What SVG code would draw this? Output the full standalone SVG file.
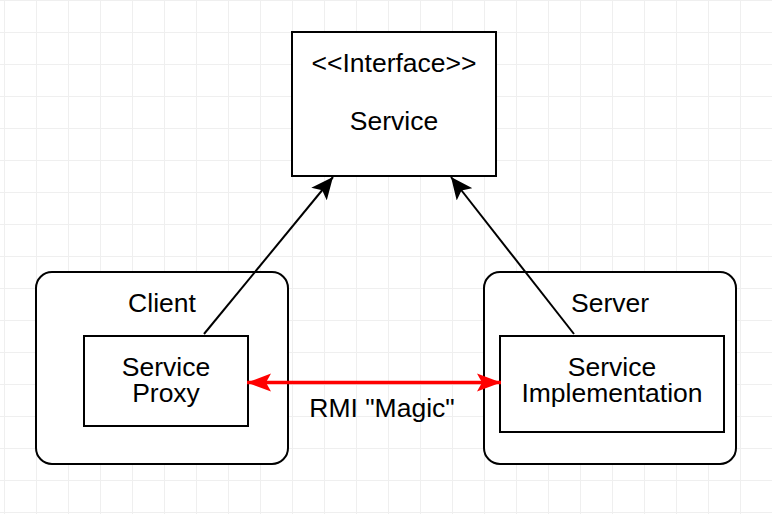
<svg xmlns="http://www.w3.org/2000/svg" width="772" height="514" viewBox="0 0 772 514">
  <defs>
    <pattern id="grid" x="4" y="0" width="32" height="32" patternUnits="userSpaceOnUse">
      <path d="M0.5 0 V32 M0 0.5 H32" fill="none" stroke="#efefef" stroke-width="1"/>
    </pattern>
    <marker id="blackHead" viewBox="0 0 22 20" refX="22" refY="10" markerWidth="22" markerHeight="20" markerUnits="userSpaceOnUse" orient="auto">
      <path d="M0 0 L22 10 L0 20 L5 10 Z" fill="#000"/>
    </marker>
    <marker id="redHead" viewBox="0 0 24 20" refX="24" refY="10" markerWidth="24" markerHeight="20" markerUnits="userSpaceOnUse" orient="auto-start-reverse">
      <path d="M0 1 L24 10 L0 19 L5 10 Z" fill="#ff0000"/>
    </marker>
    <style>
      .box { fill: #fff; stroke: #000; stroke-width: 2; }
      .lbl { font-family: "Liberation Sans", Arial, sans-serif; font-size: 26.5px; fill: #000; text-anchor: middle; }
    </style>
  </defs>
  <rect width="772" height="514" fill="#fff"/>
  <rect width="772" height="514" fill="url(#grid)"/>

  <g id="client">
    <rect class="box" x="36" y="272" width="252" height="192" rx="16" ry="16"/>
    <text class="lbl" x="162" y="312">Client</text>
  </g>
  <g id="server">
    <rect class="box" x="484" y="272" width="252" height="192" rx="16" ry="16"/>
    <text class="lbl" x="610" y="312">Server</text>
  </g>
  <g id="interface">
    <rect class="box" x="292" y="32" width="204" height="144"/>
    <text class="lbl" x="394" y="72">&lt;&lt;Interface&gt;&gt;</text>
    <text class="lbl" x="394" y="130">Service</text>
  </g>
  <g id="proxy">
    <rect class="box" x="84" y="336" width="164" height="90"/>
    <text class="lbl" x="166" y="376">Service</text>
    <text class="lbl" x="166" y="402">Proxy</text>
  </g>
  <g id="impl">
    <rect class="box" x="500" y="336" width="224" height="96"/>
    <text class="lbl" x="612" y="376">Service</text>
    <text class="lbl" x="612" y="402">Implementation</text>
  </g>

  <g id="connectors">
    <line x1="204" y1="334" x2="333" y2="177" stroke="#000" stroke-width="2" marker-end="url(#blackHead)"/>
    <line x1="574" y1="334" x2="451" y2="177" stroke="#000" stroke-width="2" marker-end="url(#blackHead)"/>
    <line x1="247" y1="382.5" x2="501" y2="382.5" stroke="#ff0000" stroke-width="3.5" marker-start="url(#redHead)" marker-end="url(#redHead)"/>
    <text class="lbl" x="382" y="417">RMI "Magic"</text>
  </g>
</svg>
